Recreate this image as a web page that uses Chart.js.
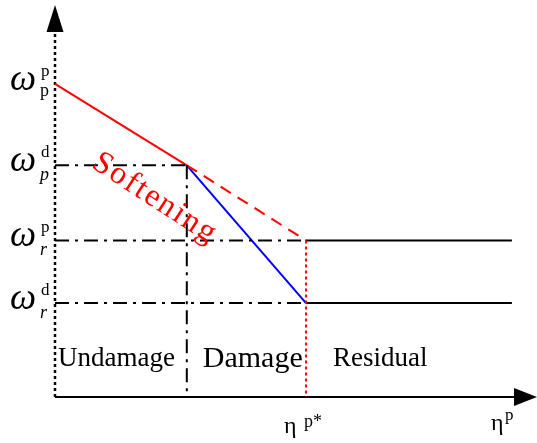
<!DOCTYPE html>
<html>
<head>
<meta charset="utf-8">
<script src="https://cdn.jsdelivr.net/npm/chart.js@4"></script>
<style>
  html, body { margin: 0; padding: 0; background: #fff; }
  #wrap { width: 537px; height: 443px; }
</style>
</head>
<body>
<div id="wrap"><canvas id="curve" width="537" height="443"></canvas></div>
<script>
// plastic strain marks: origin, damage onset, eta p*, end of residual branch
const etaMarks = [0, 5.25, 10, 18.2];
// strength levels: w_p^p, w_p^d, w_r^p, w_r^d
const omegaLevels = [10, 7.4, 5.0, 3.0];
const omegaLabels = [
  { sup: "p", sub: "p" },
  { sup: "d", sub: "p" },
  { sup: "p", sub: "r" },
  { sup: "d", sub: "r" }
];
const regionNames = ["Undamage", "Damage", "Residual"];
const xMax = 19.2;
const yMax = 12.52;

const [e0, eKnee, eStar, eEnd] = etaMarks;
const [wPP, wPD, wRP, wRD] = omegaLevels;

function seg(x1, y1, x2, y2) {
  return [{ x: x1, y: y1 }, { x: x2, y: y2 }];
}

const dashDot = [14, 6, 3, 6];

function line(data, color, dash, width) {
  return {
    data: data,
    borderColor: color,
    borderWidth: width || 2,
    borderDash: dash || [],
    showLine: true,
    pointRadius: 0,
    fill: false,
    clip: false
  };
}

const datasets = [
  // guide lines
  line(seg(e0, wPD, eKnee, wPD), "#000", dashDot),
  line(seg(e0, wRP, eStar, wRP), "#000", dashDot),
  line(seg(e0, wRD, eStar, wRD), "#000", dashDot),
  line(seg(eKnee, wPD, eKnee, 0), "#000", dashDot),
  line(seg(eStar, wRP, eStar, 0), "#ff0000", [3, 3]),
  // residual plateaus
  line(seg(eStar, wRP, eEnd, wRP), "#000"),
  line(seg(eStar, wRD, eEnd, wRD), "#000"),
  // undamaged softening, then the two branches
  line(seg(e0, wPP, eKnee, wPD), "#ff0000"),
  line(seg(eKnee, wPD, eStar, wRP), "#ff0000", [12, 8]),
  line(seg(eKnee, wPD, eStar, wRD), "#0000ff")
];

const axesAndText = {
  id: "axesAndText",
  beforeDatasetsDraw(chart) {
    const ctx = chart.ctx;
    const xs = chart.scales.x, ys = chart.scales.y;
    const ox = xs.getPixelForValue(0), oy = ys.getPixelForValue(0);
    const xTip = xs.getPixelForValue(xMax), yTip = ys.getPixelForValue(yMax);
    ctx.save();
    // y axis (dotted) with arrow
    ctx.strokeStyle = "#000";
    ctx.lineWidth = 2.5;
    ctx.setLineDash([3, 3]);
    ctx.beginPath();
    ctx.moveTo(ox, oy);
    ctx.lineTo(ox, yTip + 27);
    ctx.stroke();
    ctx.setLineDash([]);
    ctx.fillStyle = "#000";
    ctx.beginPath();
    ctx.moveTo(ox, yTip);
    ctx.lineTo(ox - 8.5, yTip + 27);
    ctx.lineTo(ox + 8.5, yTip + 27);
    ctx.closePath();
    ctx.fill();
    // x axis with arrow
    ctx.lineWidth = 2;
    ctx.beginPath();
    ctx.moveTo(ox, oy);
    ctx.lineTo(xTip - 22, oy);
    ctx.stroke();
    ctx.beginPath();
    ctx.moveTo(xTip, oy);
    ctx.lineTo(xTip - 23, oy - 9);
    ctx.lineTo(xTip - 23, oy + 9);
    ctx.closePath();
    ctx.fill();
    ctx.restore();
  },
  afterDatasetsDraw(chart) {
    const ctx = chart.ctx;
    const xs = chart.scales.x, ys = chart.scales.y;
    const oy = ys.getPixelForValue(0);
    ctx.save();
    ctx.fillStyle = "#000";
    ctx.textAlign = "left";
    ctx.textBaseline = "alphabetic";

    // omega labels on the strength axis
    omegaLabels.forEach((lab, i) => {
      const y = ys.getPixelForValue(omegaLevels[i]);
      ctx.font = "italic 37px 'Liberation Serif'";
      ctx.fillText("\u03c9", 10, y + 6);
      ctx.font = "17px 'Liberation Serif'";
      ctx.fillText(lab.sup, 41, y - 8);
      ctx.font = (i === 0 ? "" : "italic ") + "18px 'Liberation Serif'";
      ctx.fillText(lab.sub, 40, y + (i === 0 ? 12 : 15));
    });

    // region names
    ctx.font = "27px 'Liberation Serif'";
    ctx.fillText(regionNames[0], xs.getPixelForValue(e0) + 3, oy - 31);
    ctx.font = "30px 'Liberation Serif'";
    ctx.fillText(regionNames[1], xs.getPixelForValue(eKnee) + 16, oy - 30);
    ctx.font = "27px 'Liberation Serif'";
    ctx.fillText(regionNames[2], xs.getPixelForValue(eStar) + 27, oy - 31);

    // eta labels under the strain axis
    const sx = xs.getPixelForValue(eStar);
    ctx.font = "24px 'Liberation Serif'";
    ctx.fillText("\u03b7", sx - 22, oy + 36);
    ctx.font = "18px 'Liberation Serif'";
    ctx.fillText("p*", sx - 2, oy + 30);
    const ex = xs.getPixelForValue(xMax);
    ctx.font = "24px 'Liberation Serif'";
    ctx.fillText("\u03b7", ex - 46, oy + 33);
    ctx.font = "17px 'Liberation Serif'";
    ctx.fillText("p", ex - 32, oy + 23);

    // softening note along the damage branch
    ctx.fillStyle = "#ff0000";
    ctx.font = "32px 'Liberation Serif'";
    ctx.letterSpacing = "2px";
    ctx.translate(154, 198);
    ctx.rotate(33 * Math.PI / 180);
    ctx.textAlign = "center";
    ctx.textBaseline = "middle";
    ctx.fillText("Softening", 1, 0);
    ctx.restore();
  }
};

new Chart(document.getElementById("curve"), {
  type: "scatter",
  data: { datasets: datasets },
  options: {
    responsive: false,
    animation: false,
    devicePixelRatio: 1,
    layout: { padding: { left: 55, right: 0, top: 5, bottom: 46 } },
    scales: {
      x: { type: "linear", min: 0, max: xMax, display: false },
      y: { type: "linear", min: 0, max: yMax, display: false }
    },
    plugins: {
      legend: { display: false },
      tooltip: { enabled: false }
    }
  },
  plugins: [axesAndText]
});
</script>
</body>
</html>
